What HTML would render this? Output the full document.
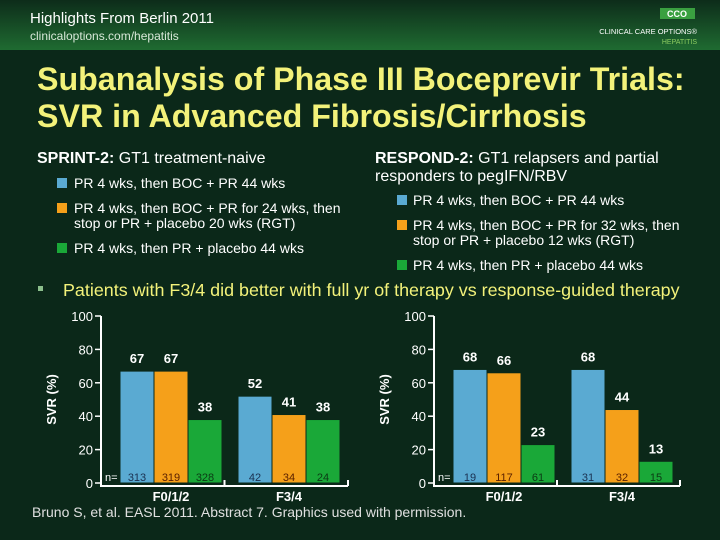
<!DOCTYPE html>
<html><head><meta charset="utf-8"><style>
html,body{margin:0;padding:0;width:720px;height:540px;overflow:hidden;background:#0b2819;}
svg{display:block;font-family:"Liberation Sans",sans-serif;}
</style></head><body>
<svg width="720" height="540" viewBox="0 0 720 540">
<defs><linearGradient id="hg" x1="0" y1="0" x2="0" y2="1"><stop offset="0" stop-color="#0d2c1a"/><stop offset="1" stop-color="#1f6b31"/></linearGradient></defs>
<rect x="0" y="0" width="720" height="540" fill="#0b2819"/>
<rect x="0" y="0" width="720" height="50" fill="url(#hg)"/>
<text x="30" y="23" fill="#fff" font-size="15">Highlights From Berlin 2011</text>
<text x="30" y="40" fill="#d8e8d8" font-size="12">clinicaloptions.com/hepatitis</text>
<rect x="660" y="8" width="35" height="11" fill="#3aa040"/>
<text x="677" y="17" fill="#fff" font-size="9" font-weight="bold" text-anchor="middle">CCO</text>
<text x="697" y="34" fill="#fff" font-size="7.5" text-anchor="end">CLINICAL CARE OPTIONS®</text>
<text x="697" y="44" fill="#8ccc60" font-size="7" text-anchor="end">HEPATITIS</text>
<text x="37" y="90" fill="#f3f27a" font-size="32.2" font-weight="bold">Subanalysis of Phase III Boceprevir Trials:</text>
<text x="37" y="127" fill="#f3f27a" font-size="32.2" font-weight="bold">SVR in Advanced Fibrosis/Cirrhosis</text>

<g fill="#fff" font-size="16">
<text x="37" y="163"><tspan font-weight="bold">SPRINT-2:</tspan> GT1 treatment-naive</text>
<rect x="57" y="178" width="10" height="10" fill="#5aaad2"/><text x="74" y="188" font-size="14">PR 4 wks, then BOC + PR 44 wks</text>
<rect x="57" y="203" width="10" height="10" fill="#f5a01a"/><text x="74" y="213" font-size="14">PR 4 wks, then BOC + PR for 24 wks, then</text><text x="74" y="228" font-size="14">stop or PR + placebo 20 wks (RGT)</text>
<rect x="57" y="243" width="10" height="10" fill="#1aa838"/><text x="74" y="253" font-size="14">PR 4 wks, then PR + placebo 44 wks</text>
</g>
<g fill="#fff" font-size="16">
<text x="375" y="163"><tspan font-weight="bold">RESPOND-2:</tspan> GT1 relapsers and partial</text>
<text x="375" y="181">responders to pegIFN/RBV</text>
<rect x="397" y="195" width="10" height="10" fill="#5aaad2"/><text x="413" y="205" font-size="14">PR 4 wks, then BOC + PR 44 wks</text>
<rect x="397" y="220" width="10" height="10" fill="#f5a01a"/><text x="413" y="230" font-size="14">PR 4 wks, then BOC + PR for 32 wks, then</text><text x="413" y="245" font-size="14">stop or PR + placebo 12 wks (RGT)</text>
<rect x="397" y="260" width="10" height="10" fill="#1aa838"/><text x="413" y="270" font-size="14">PR 4 wks, then PR + placebo 44 wks</text>
</g>
<rect x="38" y="286" width="5" height="5" fill="#8cbf8c"/>
<text x="63" y="296" fill="#f3f27a" font-size="17.9">Patients with F3/4 did better with full yr of therapy vs response-guided therapy</text>
<g id="charts"></g>
<text x="32" y="517" fill="#e0e0e0" font-size="14">Bruno S, et al. EASL 2011. Abstract 7. Graphics used with permission.</text>
</svg>
<script>
const groups = ["F0/1/2", "F3/4"];
const sprintValues = [[67, 67, 38], [52, 41, 38]];
const sprintN = [["313", "319", "328"], ["42", "34", "24"]];
const respondValues = [[68, 66, 23], [68, 44, 13]];
const respondN = [["19", "117", "61"], ["31", "32", "15"]];
const yTicks = [0, 20, 40, 60, 80, 100];
const colors = ["#5aaad2", "#f5a01a", "#1aa838"];
const nColors = ["#1a3050", "#5a2000", "#0b3a14"];
const NS = "http://www.w3.org/2000/svg";
const root = document.getElementById('charts');
function mk(tag, attrs, parent, txt) {
  const e = document.createElementNS(NS, tag);
  for (const k in attrs) e.setAttribute(k, attrs[k]);
  if (txt !== undefined) e.textContent = txt;
  parent.appendChild(e);
  return e;
}
function drawChart(name, ax, axEnd, groupStarts, values, ns) {
  const g = mk('g', {}, root);
  
  
  const y0 = 483, y100 = 316;
  const yScale = v => y0 - (v / 100) * (y0 - y100);
  const bw = 34;
  const axis = mk('path', {d: `M${ax} ${y100} V${y0 + 3} H${axEnd} M${(ax+axEnd)/2} ${y0+3} V${y0-3} M${axEnd} ${y0+3} V${y0-3}`, stroke: '#fff', 'stroke-width': 2, fill: 'none'}, g);
  
  
  yTicks.forEach(t => {
    const tk = mk('line', {x1: ax - 6, x2: ax, y1: yScale(t), y2: yScale(t), stroke: '#fff', 'stroke-width': 1.5}, g);
    
    
    const lb = mk('text', {x: ax - 8, y: yScale(t) + 5, fill: '#fff', 'font-size': 13, 'text-anchor': 'end'}, g, t);
    
    
  });
  const yt = mk('text', {transform: `translate(${ax - 45},${(y0 + y100) / 2}) rotate(-90)`, fill: '#fff', 'font-size': 13, 'font-weight': 'bold', 'text-anchor': 'middle'}, g, 'SVR (%)');
  
  
  const nl = mk('text', {x: ax + 4, y: y0 - 2, fill: '#fff', 'font-size': 11}, g, 'n=');
  
  
  groups.forEach((grp, gi) => {
    values[gi].forEach((v, si) => {
      const x = groupStarts[gi] + si * bw;
      const r = mk('rect', {x: x, y: yScale(v), width: bw, height: y0 - yScale(v), fill: colors[si], stroke: '#0b2819', 'stroke-width': 1}, g);
      
      
      const vl = mk('text', {x: x + bw / 2, y: yScale(v) - 8, fill: '#fff', 'font-size': 13, 'font-weight': 'bold', 'text-anchor': 'middle'}, g, v);
      
      
      const nt = mk('text', {x: x + bw / 2, y: y0 - 2, fill: nColors[si], 'font-size': 11, 'text-anchor': 'middle'}, g, ns[gi][si]);
      
      
    });
    const cl = mk('text', {x: groupStarts[gi] + bw * 1.5, y: y0 + 18, fill: '#fff', 'font-size': 13, 'font-weight': 'bold', 'text-anchor': 'middle'}, g, grp);
    
    
  });
}
drawChart('sprint-chart', 101, 348, [120, 238], sprintValues, sprintN);
drawChart('respond-chart', 434, 680, [453, 571], respondValues, respondN);
</script>
</body></html>
